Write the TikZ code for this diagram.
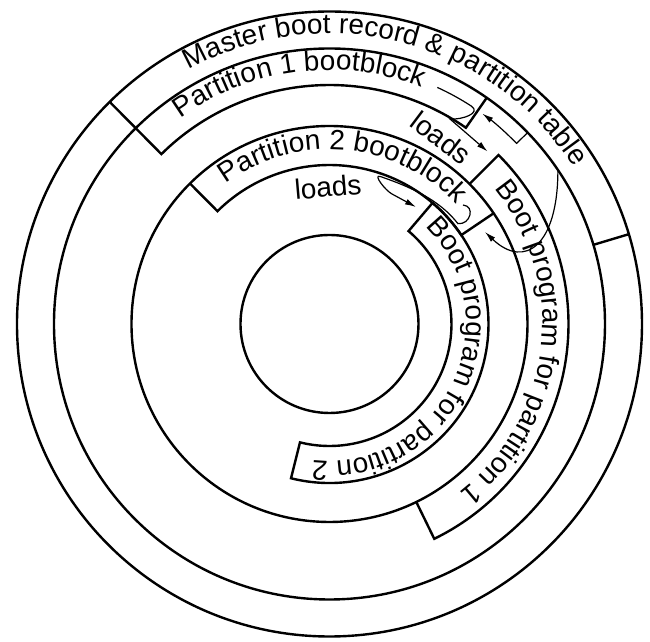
\documentclass[tikz,border=0pt]{standalone}
\usepackage{fontspec}
\setmainfont{Liberation Sans}
\usetikzlibrary{decorations.text,arrows.meta}
\newcommand{\dfont}{\fontsize{14}{16}\selectfont}
\begin{document}
\begin{tikzpicture}[x=0.5pt,y=0.5pt,
  ring/.style={line width=1.2pt},
  bandline/.style={line width=1.2pt, line join=miter},
  arr/.style={line width=0.6pt, -{Latex[length=5.5pt,width=3pt]}},
  lbl/.style={font=\dfont, inner sep=0pt}
]
\useasboundingbox (-329.5,-318) rectangle (320.5,324);
% full circles
\draw[ring] (0,0) circle[radius=89];
\draw[ring] (0,0) circle[radius=198];
\draw[ring] (0,0) circle[radius=275.5];
\draw[ring] (0,0) circle[radius=312.5];
% master boot record sector boundaries
\draw[bandline] (134.7:275.5) -- (134.7:312.5);
\draw[bandline] (16.7:275.5) -- (16.7:312.5);
% partition 1 bootblock
\draw[bandline] (134.7:275.5) -- (134.7:239) arc[start angle=134.7, end angle=55.2, radius=239] -- (55.2:275.5);
% boot program for partition 1
\draw[bandline] (45:198) -- (45:239) arc[start angle=45, end angle=-64, radius=239] -- (-64:198);
% partition 2 bootblock
\draw[bandline] (134.8:198) -- (134.8:159) arc[start angle=134.8, end angle=34, radius=159] -- (34:198);
% boot program for partition 2
\draw[bandline] (49.6:159) -- (49.6:122) arc[start angle=49.6, end angle=-104, radius=122] -- (-104:159) arc[start angle=-104, end angle=49.6, radius=159];
% curved texts
\path[decorate, decoration={text along path, text align=center,
  text={|\dfont|Master boot record {\&} partition table}}]
  (125.8:290.5) arc[start angle=125.8, end angle=25.8, radius=290.5];
\path[decorate, decoration={text along path, text align=center,
  text={|\dfont|Partition 1 bootblock}}]
  (132.25:254) arc[start angle=132.25, end angle=62.25, radius=254];
\path[decorate, decoration={text along path, text align=center,
  text={|\dfont|Partition 2 bootblock}}]
  (132.8:174.5) arc[start angle=132.8, end angle=36.8, radius=174.5];
\path[decorate, decoration={text along path, text align=center,
  text={|\dfont|Boot program for partition 1}}]
  (43.6:213) arc[start angle=43.6, end angle=-56.4, radius=213];
\path[decorate, decoration={text along path, text align=center,
  text={|\dfont|Boot program for partition 2}}]
  (49.2:137) arc[start angle=49.2, end angle=-100.8, radius=137];
% loads labels
\node[lbl, rotate=-37] (loadsA) at (111.5,186) {loads};
\node[lbl, rotate=5] (loadsB) at (-1.5,137) {loads};
% arrow A: MBR -> partition 1 bootblock
\coordinate (aS) at (44:275.5);
\draw[arr] (aS) -- (44:260) arc[start angle=44, end angle=54, radius=260];
% arrow B: partition 1 bootblock -> boot program 1
\coordinate (bS) at (65.5:260);
\draw[arr] (bS) arc[start angle=65.5, end angle=57, radius=260]
  .. controls (152.5,211) and (132.5,204) .. (120.5,205) -- (47.5:234);
% arrow C: MBR -> partition 2 bootblock
\coordinate (cS) at (34:275.5);
\coordinate (cE) at (155.5,92);
\draw[arr] (cS) .. controls (228.5,79) and (195.5,54) .. (cE);
% arrow D: partition 2 bootblock -> boot program 2
\coordinate (dS) at (133.5,119);
\coordinate (dE) at (86.5,117);
\draw[arr] (dS) .. controls (146,118) and (141,99) .. (38:163)
  .. controls (109.4,124.8) and (80,137.4) .. (71:156)
  .. controls (43.2,150.1) and (55.5,133.8) .. (62.5,130) -- (dE);
\end{tikzpicture}
\end{document}
